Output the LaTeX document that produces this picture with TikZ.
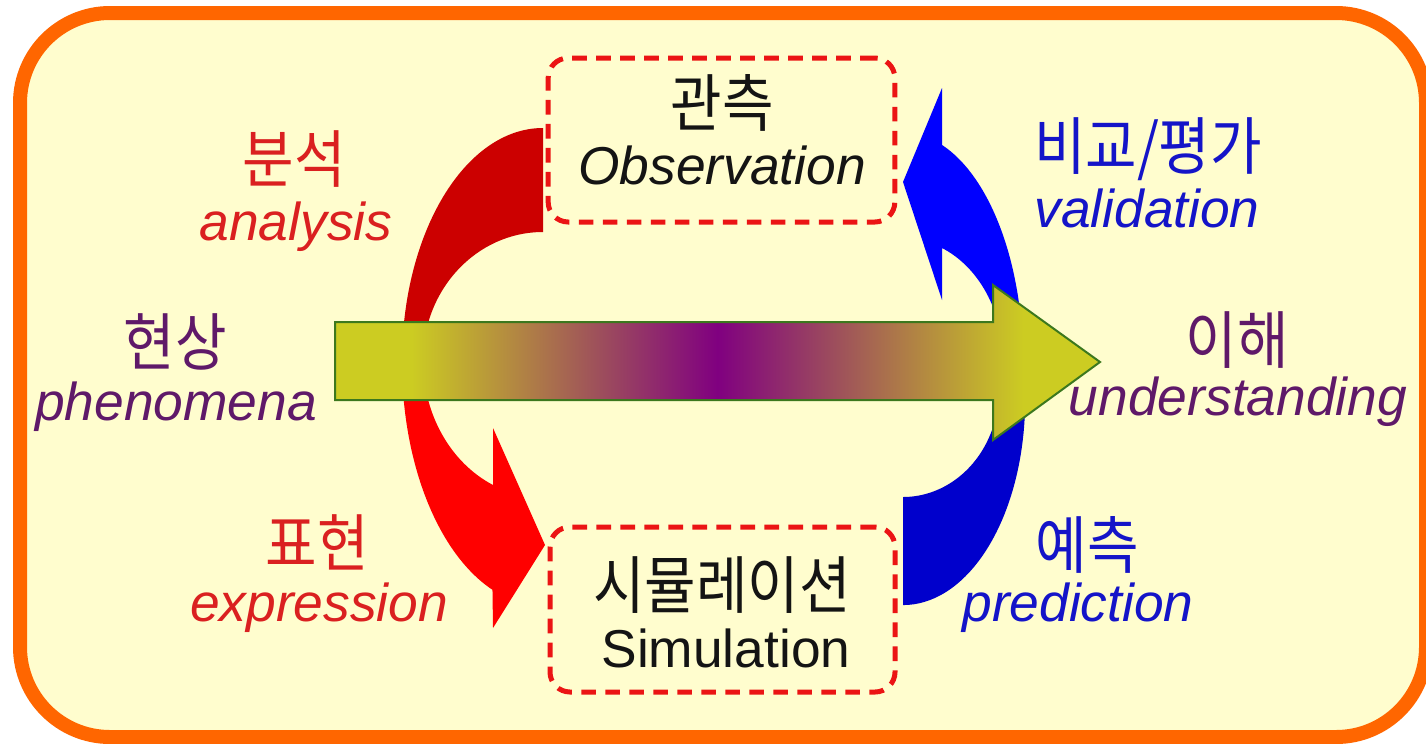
\documentclass[tikz,border=0pt]{standalone}
\usepackage{fontspec}
\setmainfont{Liberation Sans}
\newfontfamily\kr{Noto Sans CJK KR}

\definecolor{frameor}{RGB}{255,102,0}
\definecolor{bgyel}{RGB}{255,253,206}
\definecolor{ylw}{RGB}{204,204,34}
\definecolor{pur}{RGB}{128,0,128}
\definecolor{arrowgreen}{RGB}{60,120,30}
\definecolor{darkred}{RGB}{204,0,0}
\definecolor{brightred}{RGB}{255,0,0}
\definecolor{brightblue}{RGB}{0,0,255}
\definecolor{darkblue}{RGB}{0,0,204}
\definecolor{txtred}{RGB}{218,32,32}
\definecolor{txtblue}{RGB}{20,20,200}
\definecolor{txtpur}{RGB}{95,25,105}
\definecolor{boxred}{RGB}{235,20,20}
\definecolor{txtblack}{RGB}{20,20,20}

\pgfdeclarehorizontalshading{bigarrowshade}{100bp}{color(0bp)=(ylw); color(30bp)=(ylw); color(50bp)=(pur); color(70bp)=(ylw); color(100bp)=(ylw)}

\tikzset{
  krlab/.style={font=\kr\fontsize{42}{50}\selectfont, inner sep=0pt, yscale=1.12},
  enlab/.style={font=\fontsize{40}{48}\selectfont\itshape, inner sep=0pt, anchor=base},
  enup/.style={font=\fontsize{40}{48}\selectfont, inner sep=0pt, anchor=base},
  dashbox/.style={draw=boxred, line width=3.75pt, dash pattern=on 11pt off 7pt, rounded corners=15pt, inner sep=0pt},
}

\begin{document}
\begin{tikzpicture}[x=0.75pt,y=-0.75pt]
\useasboundingbox (0,0) rectangle (1426,743);
\fill[white] (0,0) rectangle (1426,743);

% outer frame
\draw[frameor, line width=10.5pt, fill=bgyel, rounded corners=67.5pt] (20,13) rectangle (1426,737);

% red curved arrow (upper, dark red)
\fill[darkred] (543,128) arc[start angle=-90, end angle=-180, x radius=141, y radius=234]
  -- (423,360) arc[start angle=-180, end angle=-90, x radius=120, y radius=128] -- cycle;
% red curved arrow (lower, bright red with head)
\fill[brightred] (402,362) arc[start angle=180, end angle=111, x radius=141, y radius=244]
  -- (493,628) -- (545,545) -- (493,428) -- (493,485)
  arc[start angle=114.6, end angle=180, x radius=120, y radius=137.5] -- cycle;

% blue curved arrow (upper, bright blue with head)
\fill[brightblue] (1023,362) arc[start angle=0, end angle=-71, x radius=120, y radius=229.5]
  -- (942,88) -- (903,182) -- (942,300) -- (942,248)
  arc[start angle=-67, end angle=0, x radius=100, y radius=121.6] -- cycle;
% blue curved arrow (lower, dark blue)
\fill[darkblue] (1023,362) arc[start angle=-10.7, end angle=90, x radius=122, y radius=205]
  -- (903,497) arc[start angle=90, end angle=-15.2, x radius=96, y radius=107] -- cycle;

% big horizontal arrow
\path[shading=bigarrowshade, draw=arrowgreen, line width=1.5pt, line join=miter]
  (335,322) -- (993,322) -- (993,285) -- (1100,362) -- (993,440) -- (993,400) -- (335,400) -- cycle;

% dashed boxes
\node[dashbox, minimum width=260pt, minimum height=123pt] (obs) at (721.5,140) {};
\node[dashbox, minimum width=258.75pt, minimum height=123.75pt] (sim) at (722.5,609.5) {};

% texts in boxes
\node[krlab, text=txtblack] (obsk) at (722,103) {관측};
\node[enlab, text=txtblack] (obse) at (722,184) {Observation};
\node[krlab, text=txtblack] (simk) at (722,585) {시뮬레이션};
\node[enup, text=txtblack] (sime) at (726,667) {Simulation};

% left labels
\node[krlab, text=txtred] (anak) at (294,159) {분석};
\node[enlab, text=txtred] (anae) at (296,240) {analysis};
\node[krlab, text=txtpur] (phek) at (175,342) {현상};
\node[enlab, text=txtpur] (phee) at (176,420) {phenomena};
\node[krlab, text=txtred] (expk) at (317,542) {표현};
\node[enlab, text=txtred] (expe) at (319,621) {expression};

% right labels
\node[krlab, text=txtblue] (valk) at (1148,149) {비교/평가};
\node[enlab, text=txtblue] (vale) at (1147,227) {validation};
\node[krlab, text=txtpur] (undk) at (1237,340) {이해};
\node[enlab, text=txtpur] (unde) at (1238,415) {understanding};
\node[krlab, text=txtblue] (prek) at (1087,545) {예측};
\node[enlab, text=txtblue] (pree) at (1078,621) {prediction};
\end{tikzpicture}
\end{document}
